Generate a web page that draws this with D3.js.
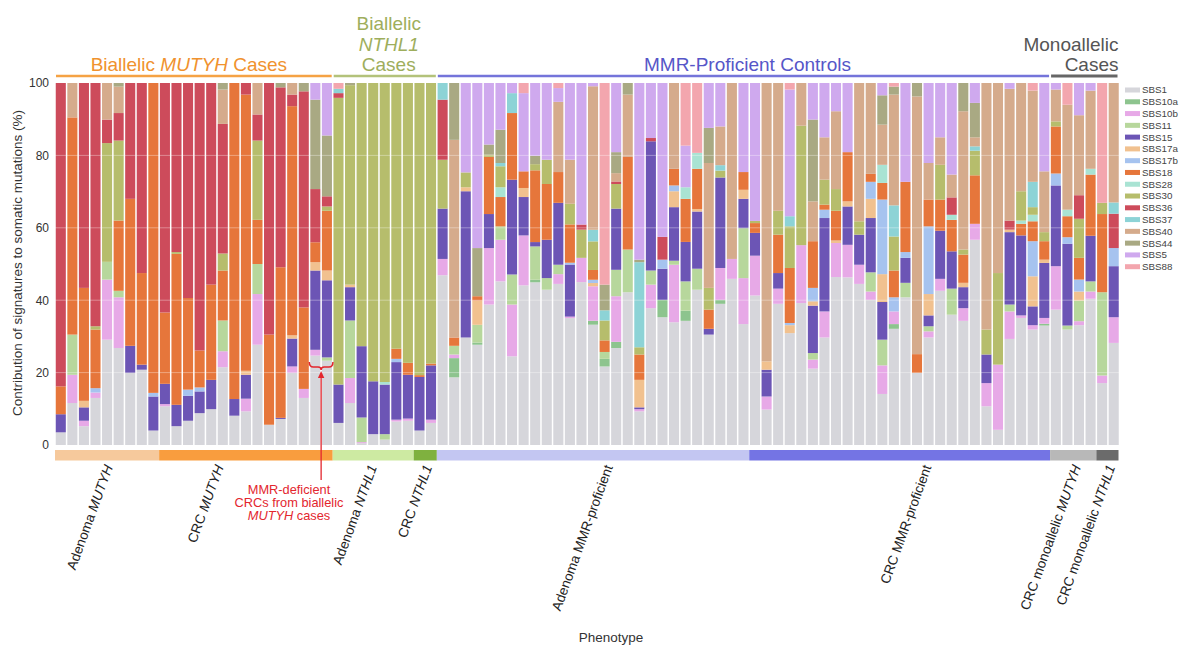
<!DOCTYPE html>
<html><head><meta charset="utf-8">
<script src="https://cdn.jsdelivr.net/npm/d3@7"></script>
<style>
html,body{margin:0;padding:0;background:#fff;}
svg{display:block;font-family:"Liberation Sans",Arial,Helvetica,sans-serif;}
</style></head><body>
<svg id="chart" width="1180" height="646"></svg>
<script>
// ---------------- DATA ----------------
const signatures = ["SBS1","SBS10a","SBS10b","SBS11","SBS15","SBS17a","SBS17b","SBS18","SBS28","SBS30","SBS36","SBS37","SBS40","SBS44","SBS5","SBS88"];

const phenotypeNames = ["Adenoma MUTYH","CRC MUTYH","Adenoma NTHL1","CRC NTHL1","Adenoma MMR-proficient","CRC MMR-proficient","CRC monoallelic MUTYH","CRC monoallelic NTHL1"];
const phenotypeSizes = [9,15,7,2,27,26,4,2];

const cohortNames = ["Biallelic MUTYH Cases","Biallelic\nNTHL1\nCases","MMR-Proficient Controls","Monoallelic\nCases"];
const cohortMembers = [[0,1],[2,3],[4,5],[6,7]];

const annotationLines = ["MMR-deficient","CRCs from biallelic","MUTYH cases"];
const annotatedSamples = [22,23];

const yTicks = [0,20,40,60,80,100];

const SBS1 = [3.5,11.6,5.2,13,29.1,26.8,19.9,20.8,4,10.7, 5.2,6.7,8.8,9.9,21.5,8.1,9.3,27.7,5.6,7.2, 19.9,13,24.7,23.3,6.1,11.6,0.5,3,1.5,6.5, 6.7,4,6.1,46.9,18.7,29.7,27.7,38.8,45.2,24.5, 44.1,44.9,42.9,44.5,35.1,45,33.2,21.7,26.8,42.2, 9.3,37.8,35.3,33.9,34.3,42.9,30.5,39,45.9,33.4, 41.3,9.8,39,30.9,39.2,21.1,29.7,46.4,46.3,44.5, 40.1,14.1,32.1,40.8,19.9,29.7,42.6,36,34.3,56.7, 10.7,4.2,29.3,35.1,31.9,33,37.4,31.9,33.1,40.4, 17.1,28.2];
const SBS10a = [0,0,0,0,0,0,0,0,0,0, 0,0,0,0,0,0,0,0,0,0, 0,0,0,0,0,0,0,0,0,0, 0,0,0,0,5.3,0,0.6,0,0,0, 0,0.7,0,0,0,0,1.1,2.1,1.7,0, 0,0,4.8,0,2.8,0,0,1.1,0,0, 0,0,0,0,0,0,0,0,0,0, 0,0,1.3,0,0,0,0,0,0,0, 0,0,0,0,0,0.5,0,0,0,0, 0,0];
const SBS10b = [0,7.8,1.5,1.5,16.6,14,0,0,0,0.6, 0,0,0,0,4.4,0,3.5,14,0,0, 1.8,2.5,1.6,0,0,6.9,0.3,0,0,0.5, 0.6,0,0.9,4.5,1,0,0,15.6,11.5,14.3, 13.8,0,0,2.7,0.4,6.7,9.5,0,12.6,0, 0.6,6.5,0,15.9,0,0,0,8.8,5.5,12.7, 11,3.6,4.2,0,16,2.5,7.2,9.4,9,5.3, 2.3,7.9,3.5,0,0,1.7,3.3,0,3.5,4.4, 6.4,18,7.6,0.7,1.2,1.6,12,0,1.1,2, 2.1,7.1];
const SBS11 = [0,11.1,0,0,4.9,1.8,0,0,0,0, 0,0,0,0,8.5,0,0,8.3,0,0, 0,0,0,0.9,0,15.9,6.8,0,1.5,0, 0,0,0,0,2.4,0,4.9,0,3.7,8.3, 0,9.2,3.2,2.6,0,0,0,1.9,7.3,11.8, 0,3.9,0,1.1,8.1,5.8,0,0,0,13.8, 0,0,0,0,0,1.8,0,0,0,0, 5.3,7.1,0,4,0,1.4,0,7.2,0,0, 0,0,1.9,0,0,0,0,1.1,5.7,2.8, 23,0];
const SBS15 = [5,0,3.7,0,0,0,7.5,1.4,9.4,5.6, 5.9,6.9,6,8.1,0,4.6,6.6,0,0,0.3, 7.7,0,21.9,21.3,10.6,9.2,19.7,14.6,13.7,15.9, 12.1,14.8,15,13.9,0,40.4,0,9.4,0,26.2, 10.6,1.2,10.6,17.1,14.4,0,0,0,16.9,0, 0.5,35.7,8.6,14.8,10.9,15.8,1.6,25,0,8.1, 6.3,7.4,4.3,0,0,13.1,25.8,0,10.6,8.3, 15,10.4,0,6.9,0,3,13.3,10.3,5.8,0, 7.9,0,20,22.1,5.2,15.2,22.3,22.6,0,12.6, 0,14.1];
const SBS17a = [0,0,1.8,0,0,0,0,0,0,0, 0,0,0,0,0,0,1.1,0,0,0, 0.9,0,2.3,2.7,0,0.7,0,0,0,0, 0,0,0,0,0,1.1,6.7,0,0,0, 2.5,0,0,0,0,0,0.9,0,0,0, 7.6,0,0,4.4,0,0.7,0,0,0,2.5, 0,2.3,0,2.2,0,1.2,0,0.7,1.4,0, 5.3,7.7,0,0,0,5.9,0,0,1.2,0, 0,0,0.7,0,8.3,0.9,0,0,2.5,0, 0,0];
const SBS17b = [0,0,0,1.2,0,0,0,0,1,0, 0,1.7,1.1,0,0,0,0,0,0,0, 0,0,0,0,0,0,0,0,0,0.9, 0,0,0,0,0,0,0,0,0,0, 0,0,0,0,0.5,0,0.9,0,0,0, 0,0,2.5,1.6,0,0,0,0,0,0, 0,0,0,0.6,0,3.7,2.3,0,0,0, 4.7,20.6,3.9,1.6,0,18.7,0,0,0,0, 0,0,0,0,9.7,0,3.3,1.8,3.3,0, 0,5];
const SBS18 = [7.7,60,31.2,16.2,0,19.4,40.6,25.3,85.6,19.7, 41.7,25.3,10.2,26.3,13.8,87.3,76.3,12.2,24.9,41.6, 63.3,22.5,5.5,16.5,0,0,0,0,0,2.8, 3.3,0.5,0.5,0,2.3,0,1.2,15.8,8.1,18.4, 4.6,19.8,15.4,8.5,10.6,0,2.7,3.2,0,25.6, 7,0,0,4.6,11.9,11.1,5.3,0,0,4.9, 2.7,0,10.6,15.2,0,12.9,1.4,8.2,13.6,0, 2.2,4.6,7.4,19.4,5.2,7.4,8.6,8.7,7.8,13.4, 0,0,0,3.2,5.5,5.1,13,5.8,6,16.9, 21.6,0];
const SBS28 = [0,0,0,0,0,0,0,0,0,0, 0,0,0,0,0,0,0,0,0,0, 0,0,0,0,0,0,0,0,0.7,0, 0,0,0,0,0,0,0,0,2.7,0, 0,0,0,0,0,0,0,0,0,0, 0,0,0,0,3.2,4.4,0,0,0,0, 0,0,0,0,0,0,0,0,0,0, 0,5,0,0,0,0,0,1.4,0,0, 0,0,0,0.9,1.8,0,0,1.8,0,1.6, 0,0];
const SBS30 = [0,0,0,0.9,32.8,22.1,0,0,0,0, 0.5,0,0,0,4.7,0,0,21.9,0,0, 0,0,0,1.2,79.2,55.1,72.7,82.4,82.6,73.4, 77.3,80.7,77.5,13.5,0,4.1,0,0.6,5.8,0, 0,1.7,6.7,0,5.7,7.8,7.9,5.5,6.8,0, 2,0,0,0,0,0,6,1.9,0,0, 0.6,0,6.6,11.5,33,0,6.9,6,0,3.7, 0,0,9.4,0,0,0,9.6,0,1.4,6.8, 6.9,25.3,0,8.1,2.1,2.5,1.4,0,10.8,0, 3.1,0];
const SBS36 = [83.8,0,56.6,67.2,6.5,7.6,32,52.5,0,63.4, 46.7,59.4,73.9,55.7,35.8,0,3.2,7.2,69.5,49.7, 3.2,59.7,14.7,2.8,1.3,0,0,0,0,0, 0,0,0,16.6,0,0,0,0,0,0, 0,0,0,0,0,1.4,0,0,0.7,0, 0,0.9,6.3,0,0,0,0,0,0,0, 0,0,0,0,0,0,0,0,0,0, 0,0,0,0,0,0,0,4.8,0,0, 0,0,2.5,0,0,0,0,0,6.5,0, 0,9.5];
const SBS37 = [0,0,0,0,0,0,0,0,0,0, 0,0,0,0,0,0,0,0,0,0, 0,0,0,0,1.2,0,0,0,0,0, 0,0,0,4.6,0,0,0,0,0.9,5.5, 0,0,0,0,0,0,3.2,2.8,0,0, 23.5,0,0,0,0,0,0,1.5,0,0, 0,0,0,2.8,0,0,0,0,0,0, 0,0,8.6,0,0,0,0,0,0,1.2, 0,0,0,0,7,0,0,0,0,0, 0,3.1];
const SBS40 = [0,9.5,0,0,10.1,7.3,0,0,0,0, 0,0,0,0,9.5,0,0,8.7,0,0, 3.2,0,0,0,0,0,0,0,0,0, 0,0,0,0,54.6,0,0,0,0,0, 0,0,0,19.4,12.2,0,39.6,0,2.3,17.2, 0,0,0,23.7,0,0,34.5,10.7,48.6,0, 0,76.9,35.3,0,11.8,11,11.7,21.5,0,38.2, 25.1,11.1,30.6,0,71.2,10.1,7.6,6.3,38.2,2.5, 68.1,52.5,36.4,29.9,25.2,16.8,8.8,29,22.1,21.6, 0,33];
const SBS44 = [0,0,0,0,0,1,0,0,0,0, 0,0,0,0,1.8,0,0,0,0,1.2, 0,2.3,24.7,16.8,0,0.6,0,0,0,0, 0,0,0,0,15.7,0,13.3,2.8,9.2,0, 0,2.3,0,0,0,0,0,7.1,5.8,3.2, 0.7,0,0,0,0,0,9.7,0,0,0, 0,0,0,0,0,22.6,0,0,0,0, 0,8.1,2.2,0,3.7,0,0,0,7.8,9.5, 0,0,0,0,0,0,0,0,0,0, 0,0];
const SBS5 = [0,0,0,0,0,0,0,0,0,0, 0,0,0,0,0,0,0,0,0,0, 0,0,4.6,14.5,0,0,0,0,0,0, 0,0,0,0,0,24.7,45.6,17,12.9,2.8, 21.6,20.1,21.2,3.8,21.2,39.1,0.9,0,19.1,0, 48.8,15.2,42.5,0,11.5,0,12.4,12,0,24.6, 38.1,0,0,35,0,10.1,15,7.8,19.1,0, 0,3.4,0,27.3,0,22.1,15,25.3,0,5.5, 0,0,1.6,0,0,24.4,1.8,0,8.9,2.1, 0,0];
const SBS88 = [0,0,0,0,0,0,0,0,0,0, 0,0,0,0,0,0,0,0,0,0, 0,0,0,0,1.6,0,0,0,0,0, 0,0,0,0,0,0,0,0,0,0, 2.8,0,0,1.4,0,0,0,55.7,0,0, 0,0,0,0,17.3,19.3,0,0,0,0, 0,0,0,1.8,0,0,0,0,0,0, 0,0,1,0,0,0,0,0,0,0, 0,0,0,0,2.1,0,0,6,0,0, 33.1,0];

// ---------------- STYLE ----------------
const sigColor = {
  SBS1:"#d6d6db", SBS10a:"#8dc48e", SBS10b:"#e7a9e7", SBS11:"#b7d79c", SBS15:"#6c55b5",
  SBS17a:"#f1c18f", SBS17b:"#a6c3ef", SBS18:"#e6763b", SBS28:"#a9e3d3", SBS30:"#b6bd6c",
  SBS36:"#cd4b5b", SBS37:"#8dd3d6", SBS40:"#d5ab8c", SBS44:"#a9a983", SBS5:"#cfa9ee", SBS88:"#f3a6ae"
};
const phenoColor = ["#f6c99c","#f99d3e","#cdeaa2","#7fb13f","#c3c6f2","#7474e4","#b8b8b8","#6b6b6b"];
const labelNudge = [6,-22,4,7,20,32,8,8];
const cohortNudge = [-5,4,4,0];
const cohortTextColor = ["#f0922e","#9eae5c","#5656c8","#555555"];
const cohortLineColor = ["#f5a244","#b3c27a","#7474da","#666666"];
const annColor = "#e3262e";

// ---------------- BUILD ----------------
const sigValues = {SBS1,SBS10a,SBS10b,SBS11,SBS15,SBS17a,SBS17b,SBS18,SBS28,SBS30,SBS36,SBS37,SBS40,SBS44,SBS5,SBS88};
const phenotypeOfSample = [];
phenotypeSizes.forEach((n,gi)=>{ for(let k=0;k<n;k++) phenotypeOfSample.push(gi); });
const nSamples = SBS1.length;
const rows = d3.range(nSamples).map(i=>{
  const r = {id:i, pheno:phenotypeOfSample[i]};
  signatures.forEach(s=> r[s]=sigValues[s][i]);
  return r;
});

const svg = d3.select("#chart");
const L=55, R=1119.5, T=83, B=445;

const x = d3.scaleBand().domain(d3.range(nSamples)).range([L,R]).paddingInner(0.13).paddingOuter(0.065);
const y = d3.scaleLinear().domain([0,1]).range([B,T]);
const bw = x.bandwidth(), step = x.step(), gap = step - bw;

const series = d3.stack().keys(signatures).offset(d3.stackOffsetExpand)(rows);

const gBars = svg.append("g");
gBars.selectAll("g").data(series).join("g")
  .attr("fill", d=>sigColor[d.key])
  .selectAll("rect").data(d=>d.filter(p=>p[1]-p[0]>0)).join("rect")
  .attr("x", d=>x(d.data.id))
  .attr("y", d=>y(d[1]))
  .attr("width", bw)
  .attr("height", d=>Math.max(0,y(d[0])-y(d[1])));

// faint gridlines over bars
svg.append("g").selectAll("line").data(yTicks.filter(t=>t>0&&t<100)).join("line")
  .attr("x1",L).attr("x2",R).attr("y1",d=>y(d/100)).attr("y2",d=>y(d/100))
  .attr("stroke","#fff").attr("stroke-opacity",0.35).attr("stroke-width",1);

// y axis
const yAxis = d3.axisLeft(y).tickValues(yTicks.map(t=>t/100)).tickFormat(d=>Math.round(d*100)).tickSize(0).tickPadding(6);
const gy = svg.append("g").attr("transform",`translate(${L},0)`).call(yAxis);
gy.select(".domain").remove();
gy.selectAll("text").attr("font-size",12).attr("fill","#333").attr("font-family",'"Liberation Sans",Arial,sans-serif');

svg.append("text").attr("transform","translate(22,263) rotate(-90)")
  .attr("text-anchor","middle").attr("font-size",13.5).attr("fill","#333")
  .text("Contribution of signatures to somatic mutations (%)");

svg.append("text").attr("x",611).attr("y",642).attr("text-anchor","middle")
  .attr("font-size",13.5).attr("fill","#333").text("Phenotype");

// phenotype extents
function groupExtent(gi){
  const idx = d3.range(nSamples).filter(i=>phenotypeOfSample[i]===gi);
  return [x(idx[0]) - gap/2, x(idx[idx.length-1]) + bw + gap/2];
}
function membersExtent(list){
  const ex = list.map(groupExtent);
  return [d3.min(ex,e=>e[0]), d3.max(ex,e=>e[1])];
}

// category strip
phenotypeNames.forEach((name,gi)=>{
  const [a,b] = groupExtent(gi);
  const x0 = Math.max(L,a), x1 = Math.min(1118.5,b);
  svg.append("rect").attr("x",x0).attr("y",450).attr("width",x1-x0).attr("height",10.5).attr("fill",phenoColor[gi]);
});

// italic gene names helper
function addRich(textSel, str){
  str.split(/(MUTYH|NTHL1)/).filter(s=>s.length).forEach(part=>{
    const ts = textSel.append("tspan").text(part);
    if(part==="MUTYH"||part==="NTHL1") ts.attr("font-style","italic");
  });
}

// rotated phenotype labels
phenotypeNames.forEach((name,gi)=>{
  const [a,b] = groupExtent(gi);
  const cx = (Math.max(L,a)+Math.min(1118.5,b))/2 + labelNudge[gi];
  const t = svg.append("text").attr("transform",`translate(${cx},467) rotate(-70)`)
    .attr("text-anchor","end").attr("font-size",13.6).attr("fill","#222");
  addRich(t,name);
});

// cohort headers
cohortNames.forEach((name,ci)=>{
  const [a,b] = membersExtent(cohortMembers[ci]);
  const x0 = Math.max(L,a)+1, x1 = Math.min(1118.5,b)-1;
  svg.append("line").attr("x1",x0).attr("x2",x1).attr("y1",76).attr("y2",76)
    .attr("stroke",cohortLineColor[ci]).attr("stroke-width",ci===3?3:2.5);
  const lines = name.split("\n");
  const anchor = ci===3 ? "end" : "middle";
  const tx = ci===3 ? x1+1 : (x0+x1)/2 + cohortNudge[ci];
  lines.forEach((ln,li)=>{
    const t = svg.append("text").attr("x",tx).attr("y",71-(lines.length-1-li)*20.5)
      .attr("text-anchor",anchor).attr("font-size",19).attr("fill",cohortTextColor[ci]);
    addRich(t,ln);
  });
});

// annotation bracket + arrow
{
  const bx0 = x(annotatedSamples[0]) - 1, bx1 = x(annotatedSamples[1]) + bw + 1;
  const cx = (bx0+bx1)/2, by = 367;
  svg.append("path")
    .attr("d",`M${bx0},${by-5} Q${bx0},${by} ${bx0+4},${by} L${cx-3},${by} Q${cx},${by} ${cx},${by+3} Q${cx},${by} ${cx+3},${by} L${bx1-4},${by} Q${bx1},${by} ${bx1},${by-5}`)
    .attr("fill","none").attr("stroke",annColor).attr("stroke-width",1.5);
  svg.append("line").attr("x1",cx).attr("x2",cx).attr("y1",376).attr("y2",480)
    .attr("stroke",annColor).attr("stroke-width",1.3);
  svg.append("path").attr("d",`M${cx},${371} L${cx-3.2},${378} L${cx+3.2},${378} Z`).attr("fill",annColor);
  annotationLines.forEach((ln,li)=>{
    const t = svg.append("text").attr("x",289).attr("y",494+li*13.2)
      .attr("text-anchor","middle").attr("font-size",12.8).attr("fill",annColor);
    addRich(t,ln);
  });
}

// legend
signatures.forEach((s,i)=>{
  const cy = 90 + i*11.78;
  svg.append("rect").attr("x",1125).attr("y",cy-2.5).attr("width",15).attr("height",5).attr("fill",sigColor[s]);
  svg.append("text").attr("x",1142).attr("y",cy).attr("dy","0.35em")
    .attr("font-size",9.8).attr("fill","#444").text(s);
});
</script>
</body></html>
